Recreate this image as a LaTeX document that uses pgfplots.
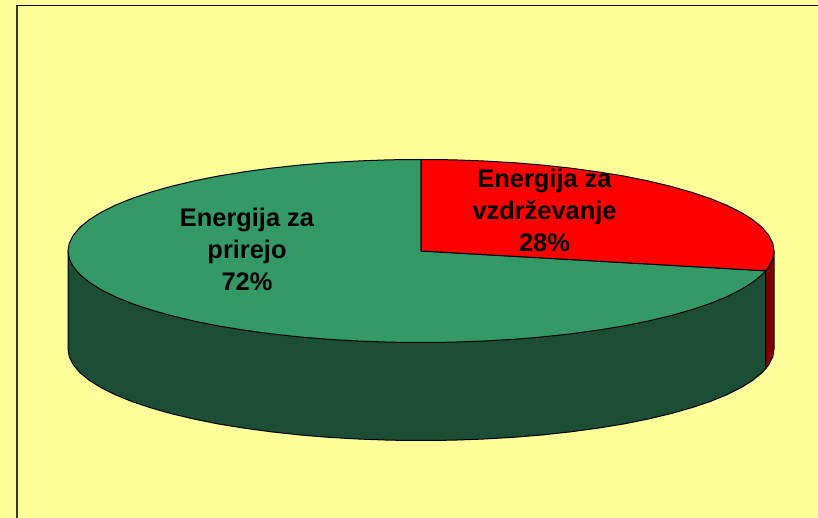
\documentclass[border=0pt]{standalone}
\usepackage{pgfplots}
\pgfplotsset{compat=1.18}
\usepackage{fontspec}
\setmainfont{Liberation Sans}
\definecolor{panel}{HTML}{FFFF99}
\definecolor{topgreen}{HTML}{339966}
\definecolor{sidegreen}{HTML}{1C4D35}
\definecolor{topred}{HTML}{FF0000}
\definecolor{sidered}{HTML}{800000}
\definecolor{frameleft}{HTML}{3A3A2C}
\begin{document}
\begin{tikzpicture}
\begin{axis}[
    scale only axis,
    width=818pt, height=518pt,
    xmin=-421, xmax=397,
    ymin=-267, ymax=251,
    xtick=\empty, ytick=\empty,
    axis line style={draw=none},
    axis background/.style={fill=panel},
    every axis plot/.append style={line join=round},
]
% frame, left and top only
\addplot[frameleft, line width=2pt] coordinates {(-404,-267) (-404,245.5)};
\addplot[black, line width=1pt] coordinates {(-405,245.5) (397,245.5)};

% side of the disc, green part
\addplot[fill=sidegreen, draw=black, line width=1pt] coordinates {
    (344.6,-19.8) (-353,0) (-353,-98)
    (-351.7,-106.0) (-347.6,-113.9) (-341.0,-121.7) (-331.7,-129.3) (-319.9,-136.7)
    (-305.7,-143.8) (-289.2,-150.5) (-270.4,-156.8) (-249.6,-162.7) (-226.9,-168.1)
    (-202.5,-173.0) (-176.5,-177.2) (-149.2,-180.9) (-120.7,-184.0) (-91.4,-186.4)
    (-61.3,-188.1) (-30.8,-189.2) (0,-189.5)
    (30.8,-189.2) (61.3,-188.1) (91.4,-186.4) (120.7,-184.0) (149.2,-180.9)
    (176.5,-177.2) (202.5,-173.0) (226.9,-168.1) (249.6,-162.7) (270.4,-156.8)
    (289.2,-150.5) (305.7,-143.8) (319.9,-136.7) (331.7,-129.3) (341.0,-121.7)
    (344.6,-117.8)
} --cycle;

% side of the disc, red part
\addplot[fill=sidered, draw=black, line width=1pt] coordinates {
    (344.6,-19.8) (347.6,-15.9) (351.7,-8.0) (353,0) (353,-98)
    (351.7,-106.0) (347.6,-113.9) (344.6,-117.8)
} --cycle;

% top, 72 %
\addplot[fill=topgreen, draw=black, line width=1pt] coordinates {
    (0,0) (344.6,-19.8)
    (341.0,-23.7) (331.7,-31.3) (319.9,-38.7) (305.7,-45.8) (289.2,-52.5)
    (270.4,-58.8) (249.6,-64.7) (226.9,-70.1) (202.5,-75.0) (176.5,-79.2)
    (149.2,-82.9) (120.7,-86.0) (91.4,-88.4) (61.3,-90.1) (30.8,-91.2) (0,-91.5)
    (-30.8,-91.2) (-61.3,-90.1) (-91.4,-88.4) (-120.7,-86.0) (-149.2,-82.9)
    (-176.5,-79.2) (-202.5,-75.0) (-226.9,-70.1) (-249.6,-64.7) (-270.4,-58.8)
    (-289.2,-52.5) (-305.7,-45.8) (-319.9,-38.7) (-331.7,-31.3) (-341.0,-23.7)
    (-347.6,-15.9) (-351.7,-8.0) (-353,0)
    (-351.7,8.0) (-347.6,15.9) (-341.0,23.7) (-331.7,31.3) (-319.9,38.7)
    (-305.7,45.8) (-289.2,52.5) (-270.4,58.8) (-249.6,64.7) (-226.9,70.1)
    (-202.5,75.0) (-176.5,79.2) (-149.2,82.9) (-120.7,86.0) (-91.4,88.4)
    (-61.3,90.1) (-30.8,91.2) (0,91.5)
} --cycle;

% top, 28 %
\addplot[fill=topred, draw=black, line width=1pt] coordinates {
    (0,0) (0,91.5)
    (30.8,91.2) (61.3,90.1) (91.4,88.4) (120.7,86.0) (149.2,82.9)
    (176.5,79.2) (202.5,75.0) (226.9,70.1) (249.6,64.7) (270.4,58.8)
    (289.2,52.5) (305.7,45.8) (319.9,38.7) (331.7,31.3) (341.0,23.7)
    (347.6,15.9) (351.7,8.0) (353,0)
    (351.7,-8.0) (347.6,-15.9) (344.6,-19.8)
} --cycle;

\node[align=center, font=\fontsize{25.4}{32}\selectfont\bfseries] at (axis cs:123.5,40.5)
    {Energija za\\vzdrževanje\\28\%};
\node[align=center, font=\fontsize{25.4}{32}\selectfont\bfseries] at (axis cs:-174,2)
    {Energija za\\prirejo\\72\%};
\end{axis}
\end{tikzpicture}
\end{document}
